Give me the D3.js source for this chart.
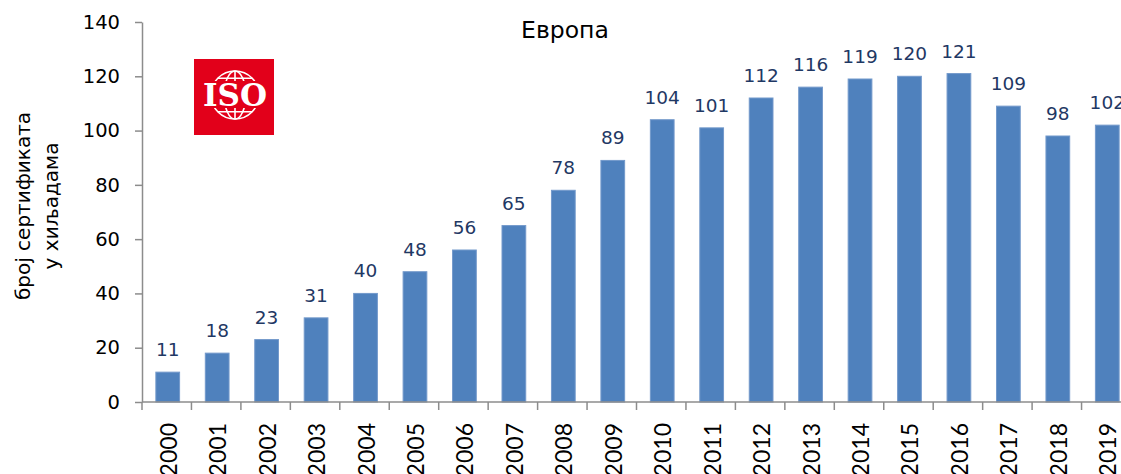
<!DOCTYPE html>
<html>
<head>
<meta charset="utf-8">
<script src="https://cdn.jsdelivr.net/npm/d3@7"></script>
<style>
  body { margin: 0; background: #fff; }
  svg { display: block; }
</style>
</head>
<body>
<svg width="1121" height="474"></svg>
<script>
// ISO certificates in Europe, thousands
const years = ["2000", "2001", "2002", "2003", "2004", "2005", "2006", "2007", "2008", "2009",
  "2010", "2011", "2012", "2013", "2014", "2015", "2016", "2017", "2018", "2019"];
const certs = [11, 18, 23, 31, 40, 48, 56, 65, 78, 89, 104, 101, 112, 116, 119, 120, 121, 109, 98, 102];
const yTicks = [0, 20, 40, 60, 80, 100, 120, 140];
const title = "Европа";
const yLabel = ["број сертификата", "у хиљадама"];

const svg = d3.select("svg");
const font = "'DejaVu Sans', sans-serif";
const axisColor = "#8c8c8c";

const plotLeft = 142, step = 49.45, plotBottom = 402, plotTop = 22;

const x = d3.scaleBand()
  .domain(years)
  .range([plotLeft, plotLeft + step * years.length])
  .paddingInner(0.52)
  .paddingOuter(0.26);

const y = d3.scaleLinear().domain([0, 140]).range([plotBottom, plotTop]);

// bars
svg.append("g").selectAll("rect")
  .data(certs)
  .join("rect")
  .attr("x", (d, i) => x(years[i]) + 1)
  .attr("y", d => y(d))
  .attr("width", x.bandwidth())
  .attr("height", d => y(0) - y(d))
  .attr("fill", "#4f81bd")
  .attr("stroke", "#7399cb")
  .attr("stroke-width", 1);

// value labels
svg.append("g").selectAll("text")
  .data(certs)
  .join("text")
  .attr("x", (d, i) => x(years[i]) + 1 + x.bandwidth() / 2)
  .attr("y", d => y(d) - 16)
  .attr("text-anchor", "middle")
  .attr("font-family", font)
  .attr("font-size", 18.5)
  .attr("fill", "#1f3864")
  .text(d => d);

// y axis
const yAxis = svg.append("g")
  .attr("transform", `translate(${plotLeft},0)`)
  .call(d3.axisLeft(y).tickValues(yTicks).tickSize(7).tickSizeOuter(0).tickPadding(15));
yAxis.selectAll("path, line").attr("stroke", axisColor).attr("stroke-width", 1.5);
yAxis.selectAll("text")
  .attr("font-family", font)
  .attr("font-size", 19.5)
  .attr("fill", "#000");

// x axis line + boundary ticks
const xg = svg.append("g");
xg.append("line")
  .attr("x1", plotLeft).attr("x2", plotLeft + step * years.length)
  .attr("y1", plotBottom).attr("y2", plotBottom)
  .attr("stroke", axisColor).attr("stroke-width", 1.5);
xg.selectAll("line.tick")
  .data(years.concat(["end"]))
  .join("line")
  .attr("class", "tick")
  .attr("x1", (d, i) => plotLeft + i * step)
  .attr("x2", (d, i) => plotLeft + i * step)
  .attr("y1", plotBottom).attr("y2", plotBottom + 8)
  .attr("stroke", axisColor).attr("stroke-width", 1.5);
xg.selectAll("text")
  .data(years)
  .join("text")
  .attr("transform", d => `translate(${x(d) + x.bandwidth() / 2 + 10},423) rotate(-90)`)
  .attr("text-anchor", "end")
  .attr("font-family", "Lato, sans-serif")
  .attr("font-size", 23)
  .attr("fill", "#000")
  .text(d => d);

// title
svg.append("text")
  .attr("x", 565).attr("y", 38)
  .attr("text-anchor", "middle")
  .attr("font-family", font)
  .attr("font-size", 23.5)
  .attr("fill", "#000")
  .text(title);

// y label (two lines)
svg.append("g")
  .attr("transform", "translate(0,206) rotate(-90)")
  .selectAll("text")
  .data(yLabel)
  .join("text")
  .attr("x", 0)
  .attr("y", (d, i) => 30 + i * 28)
  .attr("text-anchor", "middle")
  .attr("font-family", font)
  .attr("font-size", 20)
  .attr("fill", "#000")
  .text(d => d);

// ISO logo
const logo = svg.append("g").attr("transform", "translate(194,59)");
const red = "#e2001a";
logo.append("rect").attr("width", 80).attr("height", 76).attr("fill", red);
const gx = 41, gy = 36, r = 24;
const globe = logo.append("g").attr("fill", "none").attr("stroke", "#fff").attr("stroke-width", 1.6);
globe.append("circle").attr("cx", gx).attr("cy", gy).attr("r", r);
globe.append("ellipse").attr("cx", gx).attr("cy", gy).attr("rx", r * 0.45).attr("ry", r);
globe.append("line").attr("x1", gx).attr("x2", gx).attr("y1", gy - r).attr("y2", gy + r);
[-0.7, 0.7].forEach(k => {
  const yy = gy + k * r, hw = Math.sqrt(r * r - (k * r) * (k * r));
  globe.append("line").attr("x1", gx - hw).attr("x2", gx + hw).attr("y1", yy).attr("y2", yy);
});
logo.append("rect").attr("x", 4).attr("y", 22).attr("width", 72).attr("height", 27).attr("fill", red);
logo.append("text")
  .attr("x", 41).attr("y", 47)
  .attr("text-anchor", "middle")
  .attr("font-family", "'DejaVu Serif', serif")
  .attr("font-weight", "bold")
  .attr("font-size", 31)
  .attr("textLength", 64)
  .attr("lengthAdjust", "spacingAndGlyphs")
  .attr("fill", "#fff")
  .text("ISO");
</script>
</body>
</html>
